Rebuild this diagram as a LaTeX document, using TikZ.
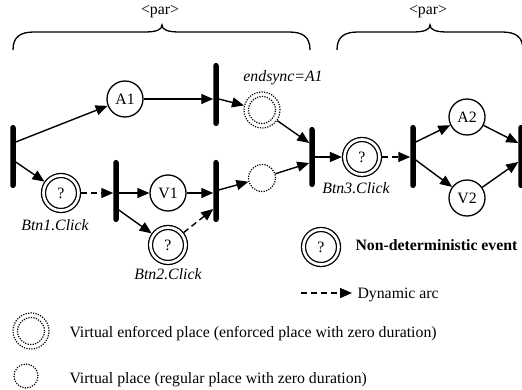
\documentclass[tikz,border=0pt]{standalone}
\usepackage{fontspec}
\setmainfont{Liberation Serif}
\usetikzlibrary{arrows.meta,calc}
\newcommand\fs{\fontsize{15.8}{18}\selectfont}
\begin{document}
\begin{tikzpicture}[x=1pt,y=-1pt,
  font=\fs,
  bar/.style={fill=black, draw=none, minimum width=5.5pt, inner sep=0pt, outer sep=0pt, rounded corners=2.6pt},
  place/.style={circle, draw, line width=1.3pt, minimum size=36pt, inner sep=0pt},
  evt/.style={circle, draw, line width=1.3pt, double distance=2.7pt, minimum size=35pt, inner sep=0pt, outer sep=2.6pt},
  dotline/.style={line width=1.2pt, dash pattern=on 1.2pt off 1.3pt},
  vplace/.style={circle, draw, dotline, inner sep=0pt},
  arr/.style={line width=1.4pt, -{Triangle[length=12pt,width=10pt]}},
  darr/.style={arr, dash pattern=on 6pt off 4pt},
  lbl/.style={font=\fs\itshape},
  brc/.style={line width=1.3pt}
]
\useasboundingbox (0,0) rectangle (522,390);

% braces
\draw[brc] (13,50) .. controls (13,37) and (20,32) .. (34,32) -- (144,32)
  .. controls (156,32) and (162,30) .. (162,25)
  .. controls (162,30) and (168,32) .. (180,32) -- (289,32)
  .. controls (303,32) and (310,37) .. (310,50);
\draw[brc] (337,50) .. controls (337,37) and (344,32) .. (358,32) -- (412,32)
  .. controls (424,32) and (430,30) .. (430,25)
  .. controls (430,30) and (436,32) .. (448,32) -- (502,32)
  .. controls (516,32) and (523,37) .. (523,50);
\node (par1) at (160,12) {<par>};
\node (par2) at (428,12) {<par>};

% transitions
\node[bar, minimum height=63pt] (T1) at (13,156.5) {};
\node[bar, minimum height=63pt] (T2) at (216,94.5) {};
\node[bar, minimum height=62pt] (T3) at (116,191) {};
\node[bar, minimum height=62pt] (T5) at (216,191) {};
\node[bar, minimum height=60pt] (T4) at (312,157) {};
\node[bar, minimum height=63pt] (T6) at (413,156.5) {};
\node[bar, minimum height=63pt] (T7) at (521,156.5) {};

% places
\node[place] (A1) at (125,99) {A1};
\node[vplace, minimum size=36pt] (VE) at (262,110) {};
\draw[dotline] (VE.center) circle[radius=13.5pt];
\node[evt] (Btn1) at (61,193) {?};
\node[place] (V1) at (168,193) {V1};
\node[evt] (Btn2) at (168,245) {?};
\node[vplace, minimum size=27pt] (VP) at (262,178) {};
\node[evt] (Btn3) at (362,157) {?};
\node[place] (A2) at (467,117) {A2};
\node[place] (V2) at (467,198) {V2};

% labels
\node[lbl] (lend) at (283,78) {endsync=A1};
\node[lbl] (lb1) at (55,225) {Btn1.Click};
\node[lbl] (lb2) at (168,274) {Btn2.Click};
\node[lbl] (lb3) at (356,188) {Btn3.Click};

% arcs
\draw[arr] ($(T1.east)+(0,-14.5)$) -- (A1);
\draw[arr] ($(T1.east)+(0,5.5)$) -- (Btn1);
\draw[arr] (A1) -- (A1 -| T2.west);
\draw[arr] ($(T2.east)+(0,4.5)$) -- (VE);
\draw[arr] (VE) -- ($(T4.west)+(0,-14)$);
\draw[darr] (Btn1) -- (Btn1 -| T3.west);
\draw[arr] ($(T3.east)+(0,2)$) -- (V1);
\draw[arr] ($(T3.east)+(0,19)$) -- (Btn2);
\draw[arr] (V1) -- (V1 -| T5.west);
\draw[darr] (Btn2) -- ($(T5.west)+(0,18)$);
\draw[arr] ($(T5.east)+(0,-1)$) -- (VP);
\draw[arr] (VP) -- ($(T4.west)+(0,6)$);
\draw[arr] (T4.east |- Btn3) -- (Btn3);
\draw[darr] (Btn3) -- (Btn3 -| T6.west);
\draw[arr] ($(T6.east)+(0,-14.5)$) -- (A2);
\draw[arr] ($(T6.east)+(0,3.5)$) -- (V2);
\draw[arr] (A2) -- ($(T7.west)+(0,-13.5)$);
\draw[arr] (V2) -- ($(T7.west)+(0,5.5)$);

% legend
\node[evt] (LE) at (321,247) {?};
\node[anchor=base west, font=\fs\bfseries] (LEt) at (352,251) {Non-deterministic event};
\coordinate (DA1) at (301,293);
\coordinate (DA2) at (352,293);
\draw[darr] (DA1) -- (DA2);
\node[anchor=base west] (DAt) at (354,298) {Dynamic arc};
\node[vplace, minimum size=36pt] (LVE) at (31,331) {};
\draw[dotline] (LVE.center) circle[radius=13.5pt];
\node[anchor=base west] (LVEt) at (66,337) {Virtual enforced place (enforced place with zero duration)};
\node[vplace, minimum size=24pt] (LVP) at (26,376) {};
\node[anchor=base west] (LVPt) at (66,383) {Virtual place (regular place with zero duration)};
\end{tikzpicture}
\end{document}
